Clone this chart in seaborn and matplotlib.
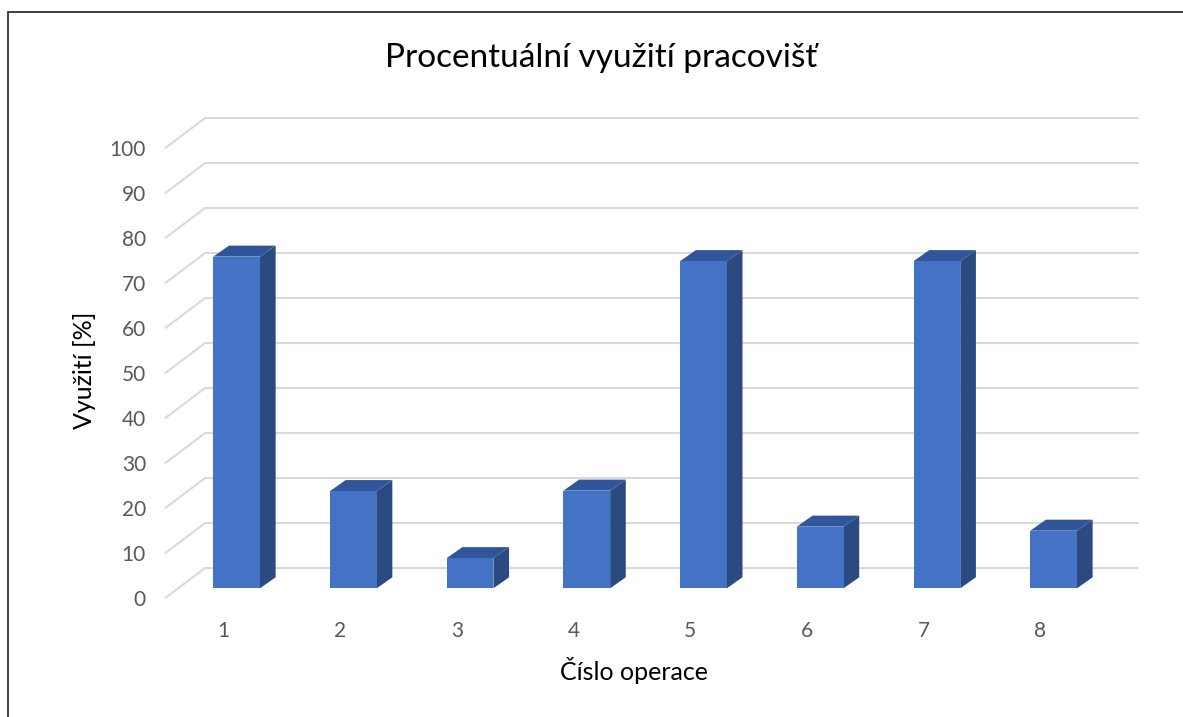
import matplotlib
matplotlib.use("Agg")
import matplotlib.pyplot as plt
from matplotlib.patches import Polygon, Rectangle
from matplotlib.transforms import ScaledTranslation
import seaborn as sns
import pandas as pd

# Data
categories = ["1", "2", "3", "4", "5", "6", "7", "8"]
values = [73.7, 21.6, 6.7, 21.7, 72.7, 13.7, 72.7, 12.8]
y_ticks = [0, 10, 20, 30, 40, 50, 60, 70, 80, 90, 100]

title = "Procentuální využití pracovišť"
x_label = "Číslo operace"
y_label = "Využití [%]"

# Styling
FRONT = "#4472C4"
SIDE = "#2B4A80"
TOP = "#31559A"
GRID = "#D9D9D9"
TICK_TXT = "#595959"
FONT = ["Lato", "DejaVu Sans"]

# oblique depth offsets (category units, value units)
BAR_DX, BAR_DY = 0.134, 2.45      # bar depth
BACK_DX, BACK_DY = 0.229, 4.5     # back wall relative to bar plane
FRONT_DX, FRONT_DY = -0.114, -2.22  # front floor edge relative to bar plane

sns.set_theme(style="white")
plt.rcParams["font.family"] = FONT

W, H, DPI = 1183, 717, 100
fig = plt.figure(figsize=(W / DPI, H / DPI), dpi=DPI)
fig.patch.set_facecolor("white")

# axes box in pixels (bar plane)
ax_l, ax_r, ax_b, ax_t = 178.3, 1112.0, 588.3, 138.3
ax = fig.add_axes([ax_l / W, (H - ax_b) / H, (ax_r - ax_l) / W, (ax_b - ax_t) / H])

df = pd.DataFrame({"op": categories, "val": values})
sns.barplot(data=df, x="op", y="val", color=FRONT, saturation=1, width=0.4,
            linewidth=0, ax=ax, zorder=3)

ax.set_xlim(-0.5, len(categories) - 0.5)
ax.set_ylim(0, 100)

# walls: gridlines on the back wall with the diagonal on the left side
x_left, x_right = -0.5, len(categories) - 0.5
for v in y_ticks:
    ax.plot([x_left + FRONT_DX, x_left + BACK_DX, x_right + BACK_DX],
            [v + FRONT_DY, v + BACK_DY, v + BACK_DY],
            color=GRID, lw=1.5, clip_on=False, zorder=1,
            solid_capstyle="butt")

# 3D side and top faces of each bar
for p in list(ax.patches):
    x0, w, h = p.get_x(), p.get_width(), p.get_height()
    side = [(x0 + w, 0), (x0 + w + BAR_DX, BAR_DY),
            (x0 + w + BAR_DX, h + BAR_DY), (x0 + w, h)]
    top = [(x0, h), (x0 + BAR_DX, h + BAR_DY),
           (x0 + w + BAR_DX, h + BAR_DY), (x0 + w, h)]
    ax.add_patch(Polygon(side, closed=True, facecolor=SIDE, edgecolor="none",
                         zorder=2.9, clip_on=False))
    ax.add_patch(Polygon(top, closed=True, facecolor=TOP, edgecolor="none",
                         zorder=2.9, clip_on=False))

for s in ax.spines.values():
    s.set_visible(False)

# tick labels sit on the front edge of the floor
shift = ScaledTranslation(-13.3 / DPI, -10 / DPI, fig.dpi_scale_trans)
ax.set_yticks(y_ticks)
ax.set_yticklabels([str(t) for t in y_ticks])
ax.set_xticks(range(len(categories)))
ax.set_xticklabels(categories)
ax.tick_params(axis="y", length=0, pad=13.7, labelsize=15, labelcolor=TICK_TXT)
ax.tick_params(axis="x", length=0, pad=16, labelsize=15, labelcolor=TICK_TXT)
for lab in ax.get_yticklabels() + ax.get_xticklabels():
    lab.set_transform(lab.get_transform() + shift)

ax.set_xlabel(x_label, fontsize=18, color="black", va="center")
ax.xaxis.set_label_coords((634 - ax_l) / (ax_r - ax_l), (ax_b - 670) / (ax_b - ax_t))
ax.set_ylabel(y_label, fontsize=18, color="black", va="center")
ax.yaxis.set_label_coords((84 - ax_l) / (ax_r - ax_l), (ax_b - 370) / (ax_b - ax_t))

fig.text(601.5 / W, 1 - 67 / H, title, ha="center", va="baseline",
         fontsize=24, color="black")

# chart area border
fig.add_artist(Rectangle((8 / W, -0.05), 1.1, 1 - 12 / H + 0.05,
                         transform=fig.transFigure, fill=False,
                         edgecolor="#404040", lw=1.4, clip_on=False))

fig.savefig("out.png", dpi=DPI, facecolor="white")
